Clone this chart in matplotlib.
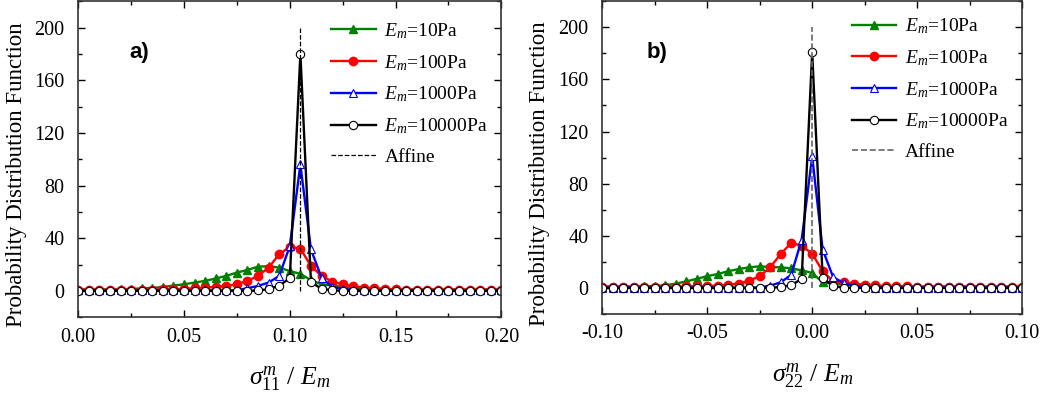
import numpy as np
import matplotlib
matplotlib.use("Agg")
import matplotlib.pyplot as plt
from matplotlib.ticker import MultipleLocator

plt.rcParams['font.family'] = 'Liberation Serif'
plt.rcParams['mathtext.fontset'] = 'custom'
plt.rcParams['mathtext.rm'] = 'Liberation Serif'
plt.rcParams['mathtext.it'] = 'Liberation Serif:italic'

# ---------------- data ----------------
labels = [r'$E_m$=10Pa', r'$E_m$=100Pa', r'$E_m$=1000Pa', r'$E_m$=10000Pa']

x_a = np.linspace(0.0, 0.2, 41)
green_a = [1, 1, 1, 1, 1.2, 1.5, 1.8, 2.2, 3, 4, 5, 6.3, 7.6, 9.4, 11.4, 13.9, 15.9, 18.4, 18.7, 17.7,
           15, 13, 8, 5, 4, 3, 2.5, 2, 1.5, 1.2, 1, 1, 1, 1, 1, 1, 1, 1, 1, 1, 1]
red_a = [1, 1, 1, 1, 1, 1, 1, 1, 1.2, 1.3, 1.5, 2, 2.5, 3, 3.8, 5, 7.6, 11.4, 17.7, 27.8,
         33.5, 32, 19, 11.4, 7, 5, 3.5, 2.5, 2, 1.5, 1.2, 1, 1, 1, 1, 1, 1, 1, 1, 1, 1]
blue_a = [0.3, 0.3, 0.3, 0.3, 0.3, 0.3, 0.3, 0.3, 0.3, 0.3, 0.3, 0.3, 0.3, 0.3, 0.3, 0.5, 2, 3.8, 6.3, 11.4,
          34, 96, 31.5, 10, 3, 1.5, 0.8, 0.3, 0.3, 0.3, 0.3, 0.3, 0.3, 0.3, 0.3, 0.3, 0.3, 0.3, 0.3, 0.3, 0.3]
black_a = [0, 0, 0, 0, 0, 0, 0, 0, 0, 0, 0, 0, 0, 0, 0, 0, 0, 0.3, 1.3, 4,
           9.6, 180, 6.8, 1.5, 0.5, 0, 0, 0, 0, 0, 0, 0, 0, 0, 0, 0, 0, 0, 0, 0, 0]
affine_a = 0.105

x_b = np.linspace(-0.1, 0.1, 41)
green_b = [1, 1, 1, 1, 1.2, 1.5, 2, 3.3, 5, 7, 9, 10.7, 12.8, 14.5, 15.8, 16.6, 16, 15.8, 15, 13.5,
           11.5, 4.3, 3.3, 2.5, 2, 1.5, 1.2, 1, 1, 1, 1, 1, 1, 1, 1, 1, 1, 1, 1, 1, 1]
red_b = [1, 1, 1, 1, 1, 1, 1, 1, 1.2, 1.3, 1.5, 1.8, 2.5, 3.3, 5.6, 9, 15.8, 26, 34.5, 32.4,
         26.3, 12.8, 5, 4.3, 3.3, 2.5, 2, 1.5, 1.5, 1.2, 1, 1, 1, 1, 1, 1, 1, 1, 1, 1, 1]
blue_b = [0.3, 0.3, 0.3, 0.3, 0.3, 0.3, 0.3, 0.3, 0.3, 0.3, 0.3, 0.3, 0.3, 0.3, 0.3, 0.3, 1.8, 4.3, 10, 37,
          101, 29.4, 8.2, 3.8, 1.5, 0.5, 0.3, 0.3, 0.3, 0.3, 0.3, 0.3, 0.3, 0.3, 0.3, 0.3, 0.3, 0.3, 0.3, 0.3, 0.3]
black_b = [0, 0, 0, 0, 0, 0, 0, 0, 0, 0, 0, 0, 0, 0, 0, 0, 0, 0.8, 2, 7,
           181, 7.7, 1.3, 0.3, 0, 0, 0, 0, 0, 0, 0, 0, 0, 0, 0, 0, 0, 0, 0, 0, 0]
affine_b = 0.0

styles = [
    dict(color='#008000', marker='^', mfc='#008000', mec='#008000'),
    dict(color='#ff0000', marker='o', mfc='#ff0000', mec='#ff0000'),
    dict(color='#0000ff', marker='^', mfc='white', mec='#0000ff', mew=0.8),
    dict(color='black', marker='o', mfc='white', mec='black', mew=0.8),
]


def panel(ax, x, series, affine, xlim, xlabel, tag, tag_x, dash_color, dash_lw, leg_y, ylab_x):
    for y, lab, st in zip(series, labels, styles):
        ax.plot(x, y, lw=1.7, ms=6, label=lab, **st)
    ax.plot([affine, affine], [0, 200], ls='--', color=dash_color, lw=dash_lw, label='Affine')
    ax.set_xlim(*xlim)
    ax.set_ylim(-20, 220)
    ax.xaxis.set_major_locator(MultipleLocator(0.05))
    ax.xaxis.set_minor_locator(MultipleLocator(0.025))
    ax.yaxis.set_major_locator(MultipleLocator(40))
    ax.yaxis.set_minor_locator(MultipleLocator(20))
    ax.xaxis.set_major_formatter(plt.FormatStrFormatter('%.2f'))
    ax.tick_params(which='both', direction='in', top=True, right=True, labelsize=14.5, width=1)
    ax.tick_params(which='major', length=5)
    ax.tick_params(which='minor', length=3)
    ax.tick_params(axis='y', which='major', pad=10)
    ax.tick_params(axis='x', which='major', pad=7.5)
    for s in ax.spines.values():
        s.set_linewidth(1.2)
        s.set_color('#333333')
    ax.set_ylabel('Probability Distribution Function', fontsize=16.5)
    ax.yaxis.set_label_coords(ylab_x, 0.45)
    ax.set_xlabel(xlabel, fontsize=18.5, labelpad=13)
    ax.text(tag_x, 181, tag, fontsize=16, fontweight='bold', family='Liberation Sans',
            ha='left', va='center')
    ax.legend(loc='upper right', bbox_to_anchor=(1.0, leg_y), frameon=False, fontsize=14,
              handlelength=2.3, labelspacing=0.62, handletextpad=0.45, borderaxespad=0.3)


fig = plt.figure(figsize=(10.5, 4), dpi=100)
ax1 = fig.add_axes([0.0745, 0.207, 0.403, 0.79])
ax2 = fig.add_axes([0.5735, 0.215, 0.400, 0.782])

panel(ax1, x_a, [green_a, red_a, blue_a, black_a], affine_a, (0.0, 0.2),
      r'$\sigma_{\mathit{11}}^{m}$ / $E_m$', 'a)', 0.024, 'black', 0.9, 0.98, -0.121)
panel(ax2, x_b, [green_b, red_b, blue_b, black_b], affine_b, (-0.1, 0.1),
      r'$\sigma_{\mathit{22}}^{m}$ / $E_m$', 'b)', -0.079, '#666666', 1.2, 0.995, -0.124)

fig.savefig('out.png', dpi=100)
